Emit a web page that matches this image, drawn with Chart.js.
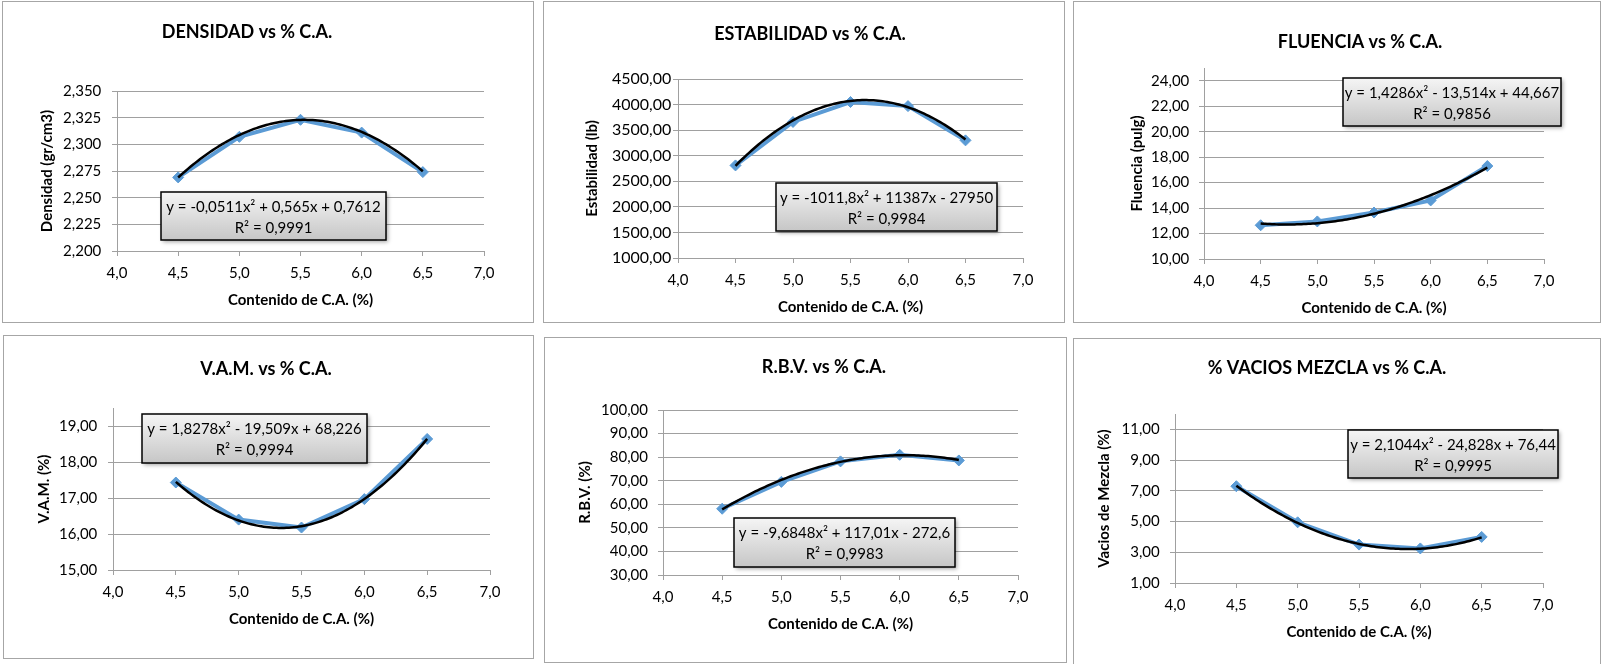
<!DOCTYPE html>
<html>
<head>
<meta charset="utf-8">
<script src="https://cdn.jsdelivr.net/npm/chart.js@4"></script>
<style>
  body { margin: 0; background: #fff; width: 1604px; height: 664px; overflow: hidden; position: relative; }
  .panel { position: absolute; box-sizing: border-box; border: 1px solid #a6a6a6; background: #fff; }
  .panel canvas { position: absolute; left: 0; top: 0; }
</style>
</head>
<body>
<script>
// data
const caX = [4.5, 5.0, 5.5, 6.0, 6.5];
const xTicks = [4.0, 4.5, 5.0, 5.5, 6.0, 6.5, 7.0];

const densidad = [2.269, 2.307, 2.323, 2.311, 2.274];
const densTicks = [2.200, 2.225, 2.250, 2.275, 2.300, 2.325, 2.350];
const densCoef = [-0.0511, 0.565, 0.7612];
const densEq = ['y = -0,0511x² + 0,565x + 0,7612', 'R² = 0,9991'];

const estabilidad = [2810, 3660, 4050, 3970, 3300];
const estTicks = [1000, 1500, 2000, 2500, 3000, 3500, 4000, 4500];
const estCoef = [-1011.8, 11387, -27950];
const estEq = ['y = -1011,8x² + 11387x - 27950', 'R² = 0,9984'];

const fluencia = [12.65, 12.95, 13.65, 14.6, 17.3];
const fluTicks = [10, 12, 14, 16, 18, 20, 22, 24];
const fluCoef = [1.4286, -13.514, 44.667];
const fluEq = ['y = 1,4286x² - 13,514x + 44,667', 'R² = 0,9856'];

const vam = [17.43, 16.40, 16.18, 16.97, 18.64];
const vamTicks = [15, 16, 17, 18, 19];
const vamCoef = [1.8278, -19.509, 68.226];
const vamEq = ['y = 1,8278x² - 19,509x + 68,226', 'R² = 0,9994'];

const rbv = [58.1, 69.5, 78.2, 81.0, 78.6];
const rbvTicks = [30, 40, 50, 60, 70, 80, 90, 100];
const rbvCoef = [-9.6848, 117.01, -272.6];
const rbvEq = ['y = -9,6848x² + 117,01x - 272,6', 'R² = 0,9983'];

const vacios = [7.30, 4.95, 3.50, 3.25, 4.00];
const vacTicks = [1, 3, 5, 7, 9, 11];
const vacCoef = [2.1044, -24.828, 76.44];
const vacEq = ['y = 2,1044x² - 24,828x + 76,44', 'R² = 0,9995'];

const BLUE = '#5b9bd5';
const GRID = '#a0a0a0';
const FONT = 'Lato, "Open Sans", sans-serif';
Chart.defaults.font.family = FONT;
Chart.defaults.color = '#000';

const fmt = (v, d) => Number(v).toFixed(d).replace('.', ',');

// draws the polynomial trendline, the title and the equation box
const panelText = {
  id: 'panelText',
  afterDatasetsDraw(chart, args, o) {
    const {ctx, scales: {x, y}} = chart;
    const c = o.coef;
    const x0 = caX[0], x1 = caX[caX.length - 1];
    ctx.save();
    ctx.beginPath();
    for (let i = 0; i <= 100; i++) {
      const xv = x0 + (x1 - x0) * i / 100;
      const yv = c[0] * xv * xv + c[1] * xv + c[2];
      const px = x.getPixelForValue(xv), py = y.getPixelForValue(yv);
      if (i) ctx.lineTo(px, py); else ctx.moveTo(px, py);
    }
    ctx.strokeStyle = '#000';
    ctx.lineWidth = 2.5;
    ctx.lineJoin = 'round';
    ctx.stroke();
    ctx.restore();
  },
  afterDraw(chart, args, o) {
    const ctx = chart.ctx;
    ctx.save();
    ctx.fillStyle = '#000';
    ctx.font = 'bold 18px ' + FONT;
    ctx.textAlign = 'center';
    ctx.textBaseline = 'middle';
    ctx.fillText(o.title, o.tx, o.ty);

    const b = o.box;
    ctx.save();
    ctx.shadowColor = 'rgba(0,0,0,0.35)';
    ctx.shadowBlur = 4;
    ctx.shadowOffsetX = 2;
    ctx.shadowOffsetY = 2;
    const g = ctx.createLinearGradient(0, b.y, 0, b.y + b.h);
    g.addColorStop(0, '#f5f5f5');
    g.addColorStop(1, '#c6c6c6');
    ctx.fillStyle = g;
    ctx.fillRect(b.x, b.y, b.w, b.h);
    ctx.restore();
    ctx.strokeStyle = '#000';
    ctx.lineWidth = 1.5;
    ctx.strokeRect(b.x, b.y, b.w, b.h);
    ctx.fillStyle = '#000';
    ctx.font = '15px ' + FONT;
    ctx.fillText(o.eq[0], b.x + b.w / 2, b.y + 15);
    ctx.fillText(o.eq[1], b.x + b.w / 2, b.y + 36);
    ctx.restore();
  }
};

function makeChart(c) {
  const p = c.panel;
  const div = document.createElement('div');
  div.className = 'panel';
  div.style.left = p.x + 'px';
  div.style.top = p.y + 'px';
  div.style.width = p.w + 'px';
  div.style.height = p.h + 'px';
  document.body.appendChild(div);
  const W = p.w - 2, H = p.h - 2;
  const ox = p.x + 1, oy = p.y + 1;
  const canvas = document.createElement('canvas');
  canvas.width = W;
  canvas.height = H;
  div.appendChild(canvas);

  const l = c.area.l - ox, t = c.area.t - oy, r = c.area.r - ox, b = c.area.b - oy;
  const xH = 62;

  new Chart(canvas, {
    type: 'scatter',
    data: {
      datasets: [{
        data: caX.map((v, i) => ({x: v, y: c.ys[i]})),
        showLine: true,
        borderColor: BLUE,
        borderWidth: 4,
        pointStyle: 'rectRot',
        pointRadius: 5.5,
        pointHoverRadius: 5.5,
        pointBackgroundColor: BLUE,
        pointBorderColor: BLUE,
        pointBorderWidth: 1
      }]
    },
    options: {
      responsive: false,
      animation: false,
      events: [],
      layout: {padding: {left: 0, top: t, right: W - r, bottom: H - b - xH}},
      plugins: {
        legend: {display: false},
        tooltip: {enabled: false},
        panelText: {
          coef: c.coef, eq: c.eq, title: c.title,
          tx: c.tpos[0] - ox, ty: c.tpos[1] - oy,
          box: {x: c.box[0] - ox, y: c.box[1] - oy, w: c.box[2] - c.box[0], h: c.box[3] - c.box[1]}
        }
      },
      scales: {
        x: {
          type: 'linear', min: 4, max: 7,
          afterBuildTicks: s => { s.ticks = xTicks.map(v => ({value: v})); },
          afterFit: s => { s.height = xH; },
          grid: {drawOnChartArea: false, tickLength: 5, color: GRID},
          border: {color: GRID},
          ticks: {font: {size: 15}, padding: 8, maxRotation: 0, callback: v => fmt(v, 1)},
          title: {display: true, text: 'Contenido de C.A. (%)', font: {size: 15, weight: 'bold'},
                  padding: {top: 0, bottom: xH - 49.5 - 9}}
        },
        y: {
          type: 'linear', min: c.min, max: c.max,
          afterBuildTicks: s => { s.ticks = c.ticks.map(v => ({value: v})); },
          afterFit: s => { s.width = l; },
          grid: {tickLength: 5, color: GRID},
          border: {color: GRID},
          ticks: {font: {size: c.tickSize || 15}, padding: c.tickGap - 5, callback: v => fmt(v, c.dec)},
          title: {display: true, text: c.yTitle, font: {size: 15, weight: 'bold'},
                  padding: {top: l - c.yTitleOff - 9, bottom: 0}}
        }
      }
    },
    plugins: [panelText]
  });
}

makeChart({
  panel: {x: 2, y: 1, w: 532, h: 322}, area: {l: 117, t: 91, r: 484, b: 251},
  ys: densidad, ticks: densTicks, min: 2.2, max: 2.35, dec: 3, coef: densCoef, eq: densEq,
  title: 'DENSIDAD vs % C.A.', tpos: [247, 32], box: [161, 192, 386, 240],
  yTitle: 'Densidad (gr/cm3)', yTitleOff: 70, tickGap: 15.7
});
makeChart({
  panel: {x: 543, y: 1, w: 522, h: 322}, area: {l: 678, t: 79, r: 1023, b: 258},
  ys: estabilidad, ticks: estTicks, min: 1000, max: 4500, dec: 2, coef: estCoef, eq: estEq,
  title: 'ESTABILIDAD vs % C.A.', tpos: [810, 34], box: [776, 183, 997, 231],
  yTitle: 'Estabilidad (lb)', yTitleOff: 86, tickGap: 6.7, tickSize: 16
});
makeChart({
  panel: {x: 1073, y: 1, w: 528, h: 322}, area: {l: 1204, t: 68, r: 1544, b: 259},
  ys: fluencia, ticks: fluTicks, min: 10, max: 25, dec: 2, coef: fluCoef, eq: fluEq,
  title: 'FLUENCIA vs % C.A.', tpos: [1360, 42], box: [1343, 78, 1561, 126],
  yTitle: 'Fluencia (pulg)', yTitleOff: 67, tickGap: 14.7
});
makeChart({
  panel: {x: 3, y: 335, w: 531, h: 324}, area: {l: 113, t: 408, r: 490, b: 570},
  ys: vam, ticks: vamTicks, min: 15, max: 19.5, dec: 2, coef: vamCoef, eq: vamEq,
  title: 'V.A.M. vs % C.A.', tpos: [266, 369], box: [142, 414, 367, 463],
  yTitle: 'V.A.M. (%)', yTitleOff: 69, tickGap: 15.7
});
makeChart({
  panel: {x: 544, y: 337, w: 523, h: 326}, area: {l: 663, t: 410, r: 1018, b: 575},
  ys: rbv, ticks: rbvTicks, min: 30, max: 100, dec: 2, coef: rbvCoef, eq: rbvEq,
  title: 'R.B.V. vs % C.A.', tpos: [824, 367], box: [734, 518, 955, 567],
  yTitle: 'R.B.V. (%)', yTitleOff: 77.7, tickGap: 15
});
makeChart({
  panel: {x: 1073, y: 338, w: 528, h: 330}, area: {l: 1175, t: 414, r: 1543, b: 583},
  ys: vacios, ticks: vacTicks, min: 1, max: 12, dec: 2, coef: vacCoef, eq: vacEq,
  title: '% VACIOS MEZCLA vs % C.A.', tpos: [1327, 368], box: [1348, 430, 1558, 478],
  yTitle: 'Vacios de Mezcla (%)', yTitleOff: 71.3, tickGap: 15.3
});
</script>
</body>
</html>
